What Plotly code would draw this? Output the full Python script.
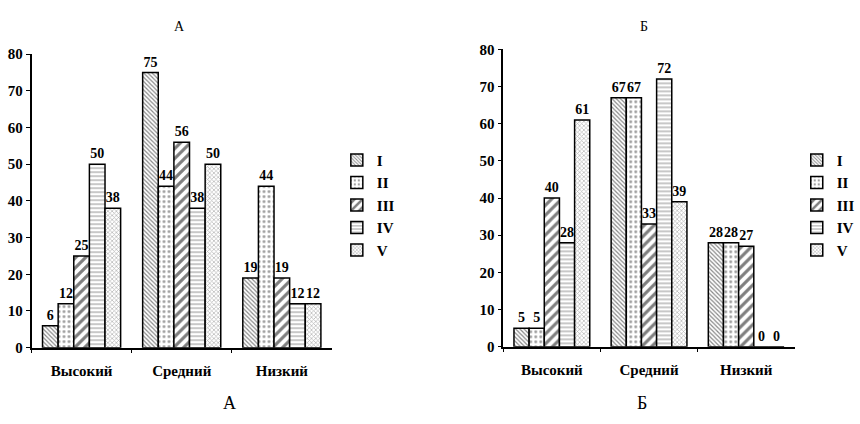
import plotly.graph_objects as go

categories = ["Высокий", "Средний", "Низкий"]
series_names = ["I", "II", "III", "IV", "V"]

values_a = {
    "I": [6, 75, 19],
    "II": [12, 44, 44],
    "III": [25, 56, 19],
    "IV": [50, 38, 12],
    "V": [38, 50, 12],
}
values_b = {
    "I": [5, 67, 28],
    "II": [5, 67, 28],
    "III": [40, 33, 27],
    "IV": [28, 72, 0],
    "V": [61, 39, 0],
}

y_ticks = [0, 10, 20, 30, 40, 50, 60, 70, 80]

# hatch fill for each series
patterns = {
    "I": dict(shape="\\", size=3, solidity=0.4, fgcolor="#111"),
    "II": dict(shape=".", size=5, solidity=0.25, fgcolor="#333"),
    "III": dict(shape="/", size=7, solidity=0.45, fgcolor="#000"),
    "IV": dict(shape="-", size=4, solidity=0.3, fgcolor="#444"),
    "V": dict(shape="x", size=3, solidity=0.4, fgcolor="#666"),
}

SERIF = "Liberation Serif, Times New Roman, serif"

fig = go.Figure()

for vals, xa, ya, leg in [
    (values_a, "x", "y", "legend"),
    (values_b, "x2", "y2", "legend2"),
]:
    for name in series_names:
        fig.add_trace(go.Bar(
            x=categories,
            y=vals[name],
            name=name,
            xaxis=xa,
            yaxis=ya,
            legend=leg,
            text=[str(v) for v in vals[name]],
            textposition="outside",
            constraintext="none",
            cliponaxis=False,
            textfont=dict(family=SERIF, size=14, color="black", weight="bold"),
            marker=dict(
                color="white",
                line=dict(color="black", width=1.5),
                pattern=dict(bgcolor="white", fillmode="overlay", **patterns[name]),
            ),
        ))

axis_font = dict(family=SERIF, size=15, color="black", weight="bold")

common_x = dict(
    showline=True, linecolor="black", linewidth=1.5,
    ticks="outside", tickson="boundaries", ticklen=4, tickcolor="black",
    tickfont=axis_font, ticklabelstandoff=9, showgrid=False, zeroline=False,
)
common_y = dict(
    range=[0, 80], tickvals=y_ticks, showline=True, linecolor="black", linewidth=1.5,
    ticks="outside", ticklen=4, tickcolor="black", tickfont=axis_font,
    showgrid=False, zeroline=False,
)

W, H = 860, 424
legend_font = dict(family=SERIF, size=15, color="black", weight="bold")

fig.update_layout(
    width=W, height=H,
    margin=dict(l=0, r=0, t=0, b=0),
    paper_bgcolor="white", plot_bgcolor="white",
    barmode="group", bargap=0.22, bargroupgap=0,
    xaxis=dict(domain=[32 / W, 337 / W], anchor="y", **common_x),
    yaxis=dict(domain=[1 - 353 / H, 1 - 48 / H], anchor="x", **common_y),
    xaxis2=dict(domain=[511 / W, 807 / W], anchor="y2", **common_x),
    yaxis2=dict(domain=[1 - 352 / H, 1 - 43 / H], anchor="x2", **common_y),
    legend=dict(
        x=342 / W, y=1 - 141 / H, xanchor="left", yanchor="top",
        font=legend_font, itemwidth=30, tracegroupgap=0, bgcolor="rgba(0,0,0,0)",
    ),
    legend2=dict(
        x=809 / W, y=1 - 141 / H, xanchor="left", yanchor="top",
        font=legend_font, itemwidth=30, tracegroupgap=0, bgcolor="rgba(0,0,0,0)",
    ),
    annotations=[
        dict(text="А", x=182 / W, y=1 - 19 / H, xref="paper", yref="paper",
             xanchor="center", yanchor="middle", showarrow=False,
             font=dict(family=SERIF, size=14, color="black")),
        dict(text="Б", x=654 / W, y=1 - 19 / H, xref="paper", yref="paper",
             xanchor="center", yanchor="middle", showarrow=False,
             font=dict(family=SERIF, size=14, color="black")),
        dict(text="А", x=233 / W, y=1 - 410 / H, xref="paper", yref="paper",
             xanchor="center", yanchor="middle", showarrow=False,
             font=dict(family=SERIF, size=18, color="black")),
        dict(text="Б", x=652 / W, y=1 - 410 / H, xref="paper", yref="paper",
             xanchor="center", yanchor="middle", showarrow=False,
             font=dict(family=SERIF, size=18, color="black")),
    ],
)

fig.write_html("out.html")
